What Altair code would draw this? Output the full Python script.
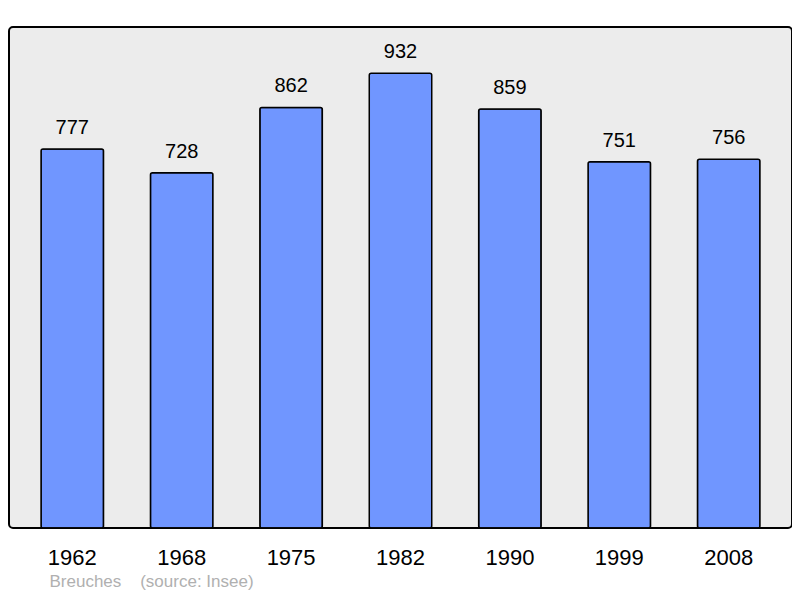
import altair as alt
import pandas as pd

years = ["1962", "1968", "1975", "1982", "1990", "1999", "2008"]
population = [777, 728, 862, 932, 859, 751, 756]

df = pd.DataFrame({"year": years, "pop": population})

FONT = "Liberation Sans"

x = alt.X(
    "year:N",
    sort=years,
    scale=alt.Scale(paddingInner=0.429, paddingOuter=0.293),
    axis=alt.Axis(
        title="Breuches\u00a0\u00a0\u00a0\u00a0(source: Insee)",
        titleFont=FONT,
        titleFontSize=17,
        titleFontWeight="normal",
        titleColor="#b0b0b0",
        titleAlign="left",
        titleBaseline="alphabetic",
        titleX=40,
        titleY=58,
        labelAngle=0,
        labelFont=FONT,
        labelFontSize=22,
        labelColor="#000000",
        labelBaseline="alphabetic",
        labelPadding=36,
        ticks=False,
        domain=False,
    ),
)
y = alt.Y("pop:Q", scale=alt.Scale(domain=[0, 1027], nice=False, zero=True), axis=None)

bars = alt.Chart(df).mark_bar(
    color="#7096ff", stroke="#000000", strokeWidth=1.5, cornerRadius=2
).encode(x=x, y=y)

labels = alt.Chart(df).mark_text(
    font=FONT, fontSize=20, color="#000000", baseline="alphabetic", dy=-15
).encode(x=x, y=y, text="pop:Q")

chart = (
    (bars + labels)
    .properties(
        width=783,
        height=501,
        autosize=alt.AutoSizeParams(type="none"),
        padding={"left": 1, "top": 19, "right": 0, "bottom": 62},
    )
    .configure_view(fill="#ececec", stroke="#000000", strokeWidth=2, cornerRadius=4)
)

chart.save("out.html", embed_options={"renderer": "svg", "actions": False})
